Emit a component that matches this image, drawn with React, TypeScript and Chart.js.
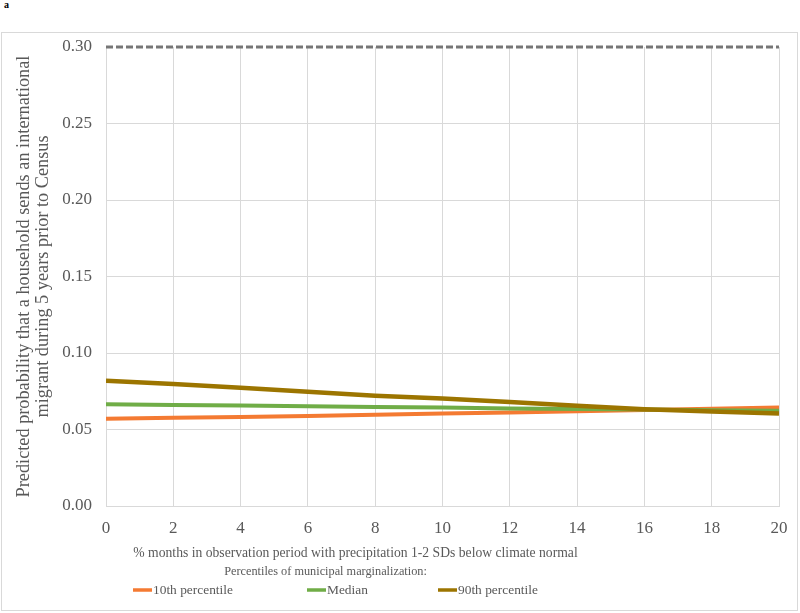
import React, { useEffect, useRef } from "react";
import { Chart, registerables } from "chart.js";

Chart.register(...registerables);

// ---- data ----
const xValues = [0, 2, 4, 6, 8, 10, 12, 14, 16, 18, 20];
const tenthPercentile = [0.0571, 0.0576, 0.0582, 0.0588, 0.0597, 0.0604, 0.0611, 0.062, 0.0628, 0.0636, 0.0643];
const medianValues = [0.0665, 0.066, 0.0657, 0.0652, 0.0647, 0.0643, 0.0638, 0.0634, 0.063, 0.0626, 0.0622];
const ninetiethPercentile = [0.0819, 0.0797, 0.0773, 0.0747, 0.0721, 0.0703, 0.0679, 0.0655, 0.0633, 0.0617, 0.0604];
const upperBoundX = [0, 20];
const upperBoundY = [0.3, 0.3];
const seriesLabels = ["10th percentile", "Median", "90th percentile"];
const yTitleLines = [
  "Predicted probability that a household sends an international",
  "migrant during 5 years prior to Census",
];
const xTitle = "% months in observation period with precipitation 1-2 SDs below climate normal";
const legendTitle = "Percentiles of municipal marginalization:";
const panelLabel = "a";

const COLORS = ["#F47A32", "#70AD47", "#9C7500"];
const FONT = "'Liberation Serif', 'Times New Roman', serif";
const TEXT = "#595959";

function fitFont(ctx: CanvasRenderingContext2D, text: string, width: number) {
  ctx.font = `100px ${FONT}`;
  const w = ctx.measureText(text).width;
  return (100 * width) / w;
}

const annotationsPlugin = {
  id: "customTexts",
  afterDraw(chart: any) {
    const { ctx, chartArea } = chart;
    ctx.save();
    ctx.fillStyle = TEXT;
    ctx.textBaseline = "middle";
    ctx.textAlign = "center";

    // y title (two rotated lines)
    const cy = (chartArea.top + chartArea.bottom) / 2;
    const ySize = fitFont(ctx, yTitleLines[0], 442);
    ctx.font = `${ySize}px ${FONT}`;
    const yLineX = [24, 43];
    yTitleLines.forEach((line, i) => {
      ctx.save();
      ctx.translate(yLineX[i], cy);
      ctx.rotate(-Math.PI / 2);
      ctx.fillText(line, 0, 0);
      ctx.restore();
    });

    // x title
    const xSize = fitFont(ctx, xTitle, 445);
    ctx.font = `${xSize}px ${FONT}`;
    ctx.fillText(xTitle, 355.5, 521);

    // legend title
    const lSize = fitFont(ctx, legendTitle, 203);
    ctx.font = `${lSize}px ${FONT}`;
    ctx.fillText(legendTitle, 325.5, 540);

    // legend items
    const itemX = [133, 307, 438];
    const itemSize = fitFont(ctx, seriesLabels[0], 80);
    ctx.font = `${itemSize}px ${FONT}`;
    ctx.textAlign = "left";
    seriesLabels.forEach((label, i) => {
      ctx.strokeStyle = COLORS[i];
      ctx.lineWidth = 3.5;
      ctx.beginPath();
      ctx.moveTo(itemX[i], 558);
      ctx.lineTo(itemX[i] + 19, 558);
      ctx.stroke();
      ctx.fillText(label, itemX[i] + 20, 558);
    });
    ctx.restore();
  },
};

function toPoints(xs: number[], ys: number[]) {
  return xs.map((x, i) => ({ x, y: ys[i] }));
}

export default function App() {
  const canvasRef = useRef<HTMLCanvasElement | null>(null);

  useEffect(() => {
    const canvas = canvasRef.current;
    if (!canvas) return;
    const chart = new Chart(canvas, {
      type: "line",
      data: {
        datasets: [
          {
            label: "upper",
            data: toPoints(upperBoundX, upperBoundY),
            borderColor: "#767676",
            borderWidth: 3,
            borderDash: [7, 3],
            pointRadius: 0,
            clip: false,
            order: 0,
          },
          {
            label: seriesLabels[0],
            data: toPoints(xValues, tenthPercentile),
            borderColor: COLORS[0],
            borderWidth: 4,
            pointRadius: 0,
            order: 3,
          },
          {
            label: seriesLabels[1],
            data: toPoints(xValues, medianValues),
            borderColor: COLORS[1],
            borderWidth: 4,
            pointRadius: 0,
            order: 2,
          },
          {
            label: seriesLabels[2],
            data: toPoints(xValues, ninetiethPercentile),
            borderColor: COLORS[2],
            borderWidth: 4.5,
            pointRadius: 0,
            order: 1,
          },
        ],
      },
      options: {
        animation: false,
        responsive: false,
        devicePixelRatio: 1,
        layout: { padding: { top: 15, right: 21, left: 0, bottom: 0 } },
        plugins: { legend: { display: false }, tooltip: { enabled: false }, title: { display: false } },
        scales: {
          x: {
            type: "linear",
            min: 0,
            max: 20,
            ticks: {
              stepSize: 2,
              padding: 12,
              color: TEXT,
              font: { family: FONT, size: 17 },
            },
            grid: { color: "#D9D9D9", lineWidth: 1, drawTicks: false },
            border: { color: "#D9D9D9" },
            afterFit: (scale: any) => {
              scale.height = 104;
            },
          },
          y: {
            type: "linear",
            min: 0,
            max: 0.3,
            ticks: {
              stepSize: 0.05,
              padding: 14,
              color: TEXT,
              font: { family: FONT, size: 17 },
              callback: (v: any) => Number(v).toFixed(2),
            },
            grid: {
              color: (c: any) => (c.tick && Math.abs(c.tick.value - 0.3) < 1e-9 ? "rgba(0,0,0,0)" : "#D9D9D9"),
              lineWidth: 1,
              drawTicks: false,
            },
            border: { display: false },
            afterFit: (scale: any) => {
              scale.width = 106;
              scale.paddingTop = 0;
              scale.paddingBottom = 0;
            },
          },
        },
      },
      plugins: [annotationsPlugin],
    });
    return () => chart.destroy();
  }, []);

  return (
    <div style={{ position: "fixed", left: 0, top: 0, width: 800, height: 613, background: "#fff", overflow: "hidden" }}>
      <span
        style={{
          position: "absolute",
          left: 4,
          top: -1,
          fontFamily: FONT,
          fontWeight: "bold",
          fontSize: 10,
          color: "#000",
        }}
      >
        {panelLabel}
      </span>
      <canvas
        ref={canvasRef}
        width={800}
        height={578}
        style={{ position: "absolute", left: 0, top: 32, width: 800, height: 578 }}
      />
      <div
        style={{
          position: "absolute",
          left: 1,
          top: 32,
          width: 797,
          height: 579,
          boxSizing: "border-box",
          border: "1px solid #D9D9D9",
          pointerEvents: "none",
        }}
      />
    </div>
  );
}
